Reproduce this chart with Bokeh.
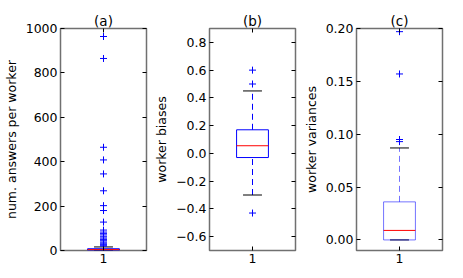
from bokeh.plotting import figure
from bokeh.layouts import row
from bokeh.models import FixedTicker, LinearAxis, Range1d, CustomJSTickFormatter, PrintfTickFormatter
from bokeh.embed import file_html
from bokeh.resources import INLINE

# ---- data ----
titles = ["(a)", "(b)", "(c)"]
ylabels = ["num. answers per worker", "worker biases", "worker variances"]

# panel (a)
a_stats = dict(lo=1, q1=1, med=4, q3=8, hi=16)
a_out = [964, 865, 465, 408, 345, 269, 202, 180, 128, 92, 83, 76, 70, 62, 56, 50, 44, 38, 33, 28, 24, 20]
a_ticks = [0, 200, 400, 600, 800, 1000]
a_range = (0, 1000)

# panel (b)
b_stats = dict(lo=-0.30, q1=-0.03, med=0.055, q3=0.17, hi=0.45)
b_out = [0.60, 0.50, -0.43]
b_ticks = [-0.6, -0.4, -0.2, 0.0, 0.2, 0.4, 0.6, 0.8]
b_range = (-0.7, 0.9)

# panel (c)
c_stats = dict(lo=0.0, q1=0.0, med=0.009, q3=0.036, hi=0.087)
c_out = [0.197, 0.157, 0.095, 0.093]
c_ticks = [0.0, 0.05, 0.10, 0.15, 0.20]
c_range = (-0.01, 0.20)

xcat = [1]
BOX_W = 0.37
CAP_W = 0.22
FONT = "DejaVu Sans"


def make(title, ylabel, stats, out, ticks, yr, fmt, bl, br, box_alpha=1.0):
    p = figure(frame_width=86, frame_height=222, output_backend="svg", toolbar_location=None,
               x_range=Range1d(0.5, 1.5), y_range=Range1d(*yr),
               min_border_left=bl, min_border_right=br, min_border_top=28, min_border_bottom=20,
               title=title)
    p.title.align = "center"
    p.title.text_font = FONT
    p.title.text_font_size = "13.5px"
    p.title.text_font_style = "normal"
    p.title.text_color = "black"
    p.title.standoff = 0
    p.title.offset = 0
    p.grid.visible = False
    p.outline_line_color = "#707070"
    p.outline_line_width = 1.5
    p.background_fill_color = "white"
    p.border_fill_color = "white"

    for ax in (p.xaxis[0], p.yaxis[0]):
        ax.axis_line_color = None
        ax.major_tick_in = 4
        ax.major_tick_out = 0
        ax.minor_tick_line_color = None
        ax.major_label_text_font = FONT
        ax.major_label_text_font_size = "12.5px"
        ax.major_label_text_color = "black"
        ax.major_label_standoff = 3
    p.xaxis[0].ticker = FixedTicker(ticks=xcat)
    p.yaxis[0].ticker = FixedTicker(ticks=ticks)
    p.yaxis[0].formatter = fmt
    p.yaxis[0].axis_label = ylabel
    p.yaxis[0].axis_label_text_font = FONT
    p.yaxis[0].axis_label_text_font_size = "12.5px"
    p.yaxis[0].axis_label_text_font_style = "normal"
    p.yaxis[0].axis_label_text_color = "black"
    p.yaxis[0].axis_label_standoff = 4

    blank = CustomJSTickFormatter(code="return '';")
    r = LinearAxis(ticker=FixedTicker(ticks=ticks), formatter=blank,
                   axis_line_color=None, major_tick_in=4, major_tick_out=0,
                   minor_tick_line_color=None, major_label_standoff=0)
    p.add_layout(r, "right")
    t = LinearAxis(ticker=FixedTicker(ticks=xcat), formatter=blank,
                   axis_line_color=None, major_tick_in=4, major_tick_out=0,
                   minor_tick_line_color=None, major_label_standoff=0)
    p.add_layout(t, "above")

    xl = [x - BOX_W / 2 for x in xcat]
    xr = [x + BOX_W / 2 for x in xcat]
    cl = [x - CAP_W / 2 for x in xcat]
    cr = [x + CAP_W / 2 for x in xcat]

    # whiskers
    p.segment(x0=xcat, x1=xcat, y0=[stats["q3"]], y1=[stats["hi"]], line_color="blue",
              line_dash="6 4", line_width=1, line_alpha=box_alpha)
    p.segment(x0=xcat, x1=xcat, y0=[stats["lo"]], y1=[stats["q1"]], line_color="blue",
              line_dash="6 4", line_width=1, line_alpha=box_alpha)
    # caps
    for v in (stats["lo"], stats["hi"]):
        p.segment(x0=cl, x1=cr, y0=[v], y1=[v], line_color="black", line_width=1)
    # box
    p.quad(left=xl, right=xr, bottom=[stats["q1"]], top=[stats["q3"]], fill_color=None,
           line_color="blue", line_width=1, line_alpha=box_alpha)
    # median
    p.segment(x0=xl, x1=xr, y0=[stats["med"]], y1=[stats["med"]], line_color="red", line_width=1)
    # outliers
    p.scatter(x=[1] * len(out), y=out, marker="cross", size=7, line_color="blue", line_width=1)
    return p


fmt_a = PrintfTickFormatter(format="%d")
fmt_b = CustomJSTickFormatter(code="return tick.toFixed(1).replace('-', '\u2212');")
fmt_c = PrintfTickFormatter(format="%.2f")

pa = make(titles[0], ylabels[0], a_stats, a_out, a_ticks, a_range, fmt_a, 52, 5)
pb = make(titles[1], ylabels[1], b_stats, b_out, b_ticks, b_range, fmt_b, 45, 5)
pc = make(titles[2], ylabels[2], c_stats, c_out, c_ticks, c_range, fmt_c, 46, 10, box_alpha=0.55)

layout = row(pa, pb, pc)
open("out.html", "w").write(file_html(layout, INLINE))
